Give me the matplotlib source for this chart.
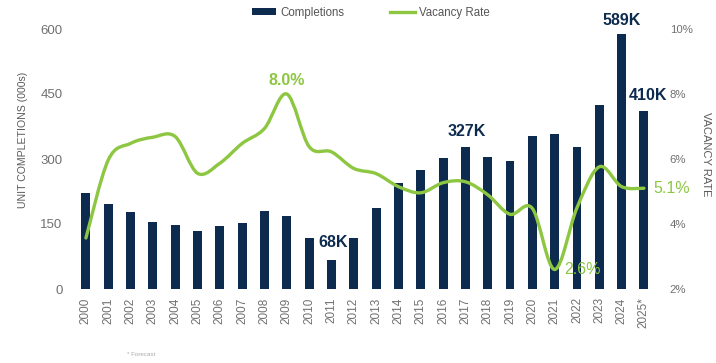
import matplotlib
matplotlib.use('Agg')
import matplotlib.pyplot as plt
from matplotlib.path import Path
from matplotlib.patches import PathPatch, Patch
from matplotlib.lines import Line2D

# Данные
years = [str(y) for y in range(2000, 2025)] + ['2025*']
completions = [221, 196, 178, 155, 148, 133, 145, 152, 180, 168, 117, 68, 118,
               186, 245, 274, 303, 327, 305, 296, 353, 358, 328, 425, 589, 410]
vacancy = [3.57, 5.97, 6.48, 6.67, 6.69, 5.56, 5.87, 6.48, 6.94, 8.0, 6.38, 6.22, 5.71,
           5.55, 5.15, 4.96, 5.27, 5.3, 4.9, 4.3, 4.48, 2.6, 4.5, 5.76, 5.15, 5.1]
left_ticks = [0, 150, 300, 450, 600]
right_ticks = [2, 4, 6, 8, 10]
bar_labels = ['2011', '2017', '2024', '2025*']
rate_labels = ['2009', '2021', '2025*']

navy = '#0c2b4e'
green = '#8dc641'
gray = '#707070'
font = ['Liberation Sans', 'DejaVu Sans']

fig = plt.figure(figsize=(7.16, 3.63), dpi=100)
ax1 = fig.add_axes([75 / 716, 74 / 363, 585 / 716, 260 / 363])
x = list(range(len(years)))

# Столбики
ax1.bar(x, completions, width=0.4, color=navy, zorder=2)
ax1.set_xlim(-0.49, 25.72)
ax1.set_ylim(0, 600)
ax1.set_yticks(left_ticks)
ax1.set_yticklabels([str(t) for t in left_ticks], family=font, fontsize=9.5, color=gray)
ax1.set_xticks(x)
ax1.set_xticklabels(years, rotation=90, family=font, fontsize=8.5, color=gray)
ax1.tick_params(axis='y', length=0, pad=9)
ax1.tick_params(axis='x', length=0, pad=6)
for s in ax1.spines.values():
    s.set_visible(False)

offsets = {'2011': (1, 7), '2017': (1, 6), '2024': (0, 4), '2025*': (3, 6)}
for lab in bar_labels:
    i = years.index(lab)
    ax1.annotate(f"{completions[i]}K", (i, completions[i]), xytext=offsets[lab],
                 textcoords='offset points', ha='center', va='bottom',
                 family=font, fontsize=11.5, fontweight='bold', color=navy,
                 annotation_clip=False)

# Линия вакантности (сглаженная)
ax2 = ax1.twinx()
ax2.set_ylim(2, 10)
ax2.set_yticks(right_ticks)
ax2.set_yticklabels([f"{t}%" for t in right_ticks], family=font, fontsize=8.2, color=gray)
ax2.tick_params(axis='y', length=0, pad=7)
for s in ax2.spines.values():
    s.set_visible(False)

pts = list(zip(x, vacancy))
verts = [pts[0]]
codes = [Path.MOVETO]
n = len(pts)
for i in range(n - 1):
    p0 = pts[max(i - 1, 0)]
    p1 = pts[i]
    p2 = pts[i + 1]
    p3 = pts[min(i + 2, n - 1)]
    c1 = (p1[0] + (p2[0] - p0[0]) / 6, p1[1] + (p2[1] - p0[1]) / 6)
    c2 = (p2[0] - (p3[0] - p1[0]) / 6, p2[1] - (p3[1] - p1[1]) / 6)
    verts += [c1, c2, p2]
    codes += [Path.CURVE4] * 3
ax2.add_patch(PathPatch(Path(verts, codes), facecolor='none', edgecolor=green,
                        lw=2.4, capstyle='round', joinstyle='round'))

rate_pos = {'2009': ((0, 4), 'center', 'bottom', 'bold'),
            '2021': ((7, 0), 'left', 'center', 'normal'),
            '2025*': ((7, 0), 'left', 'center', 'normal')}
for lab in rate_labels:
    i = years.index(lab)
    off, ha, va, w = rate_pos[lab]
    ax2.annotate(f"{vacancy[i]:.1f}%", (i, vacancy[i]), xytext=off,
                 textcoords='offset points', ha=ha, va=va, family=font,
                 fontsize=11.5, fontweight=w, color=green, annotation_clip=False)

# Подписи осей
fig.text(23 / 716, 1 - 140 / 363, 'UNIT COMPLETIONS (000s)', rotation=90,
         ha='center', va='center', family=font, fontsize=7.6, color='#5a5a5a')
fig.text(706 / 716, 1 - 154 / 363, 'VACANCY RATE', rotation=-90,
         ha='center', va='center', family=font, fontsize=8, color='#5a5a5a')
fig.text(127 / 716, 1 - 354 / 363, '* Forecast', ha='left', va='center',
         family=font, fontsize=4.5, color='#aaaaaa')

# Легенда
handles = [Patch(facecolor=navy, edgecolor='none'),
           Line2D([], [], color=green, lw=2.4)]
fig.legend(handles, ['Completions', 'Vacancy Rate'], loc='center left',
           bbox_to_anchor=(252 / 716, 1 - 13 / 363), ncol=2, frameon=False,
           prop={'family': font, 'size': 8.3}, labelcolor='#555555',
           handlelength=2.1, handleheight=0.55, handletextpad=0.35,
           columnspacing=4.0, borderpad=0, borderaxespad=0)

plt.savefig('out.png', dpi=100)
